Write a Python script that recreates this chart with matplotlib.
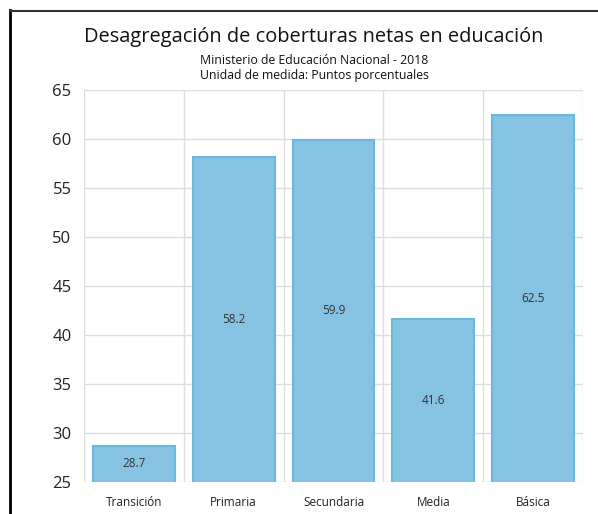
import matplotlib.pyplot as plt
import numpy as np
from matplotlib.lines import Line2D

categories = ["Transición", "Primaria", "Secundaria", "Media", "Básica"]
values = [28.7, 58.2, 59.9, 41.6, 62.5]

title = "Desagregación de coberturas netas en educación"
subtitle_1 = "Ministerio de Educación Nacional - 2018"
subtitle_2 = "Unidad de medida: Puntos porcentuales"

plt.rcParams['font.family'] = ['Open Sans', 'DejaVu Sans']

W, H = 598, 514
fig = plt.figure(figsize=(W / 100, H / 100), dpi=100)
ax = fig.add_axes([84 / W, 1 - 482 / H, (583 - 84) / W, (482 - 90) / H])

x = np.arange(len(categories))
bars = ax.bar(x, values, width=0.82, bottom=0, color='#86c3e2',
              edgecolor='#6bb8de', linewidth=1.5, zorder=2)
for rect, v in zip(bars, values):
  ax.text(rect.get_x() + rect.get_width() / 2, (25 + v) / 2, f"{v}",
          ha='center', va='center', fontsize=8.5, color='#333333', zorder=3)

ax.set_xlim(-0.5, len(categories) - 0.5)
ax.set_ylim(25, 65)
ax.set_yticks(np.arange(25, 66, 5))
ax.set_xticks(x)
ax.set_xticklabels(categories, fontsize=8.5, color='#222222')
ax.tick_params(axis='y', labelsize=12, length=0, pad=9, labelcolor='#222222')
ax.tick_params(axis='x', length=0, pad=10)

# grid: horizontal at each tick, vertical at category boundaries
for yv in np.arange(25, 66, 5):
  ax.axhline(yv, color='#dddddd', linewidth=1, zorder=1)
for xb in np.arange(-0.5, len(categories), 1):
  ax.axvline(xb, color='#dddddd', linewidth=1, zorder=1)
for s in ax.spines.values():
  s.set_visible(False)

fig.text(314 / W, 1 - 37 / H, title, ha='center', va='center', fontsize=14.4, color='#111111')
fig.text(314 / W, 1 - 60 / H, subtitle_1, ha='center', va='center', fontsize=8.8, color='#111111')
fig.text(314 / W, 1 - 76 / H, subtitle_2, ha='center', va='center', fontsize=8.8, color='#111111')

# outer frame (left and top edges)
fig.add_artist(Line2D([9.5 / W, 9.5 / W], [0, 1 - 10 / H], transform=fig.transFigure, color='black', linewidth=2))
fig.add_artist(Line2D([9.5 / W, 1], [1 - 10.5 / H, 1 - 10.5 / H], transform=fig.transFigure, color='#333333', linewidth=1.5))

fig.savefig('out.png', dpi=100)
